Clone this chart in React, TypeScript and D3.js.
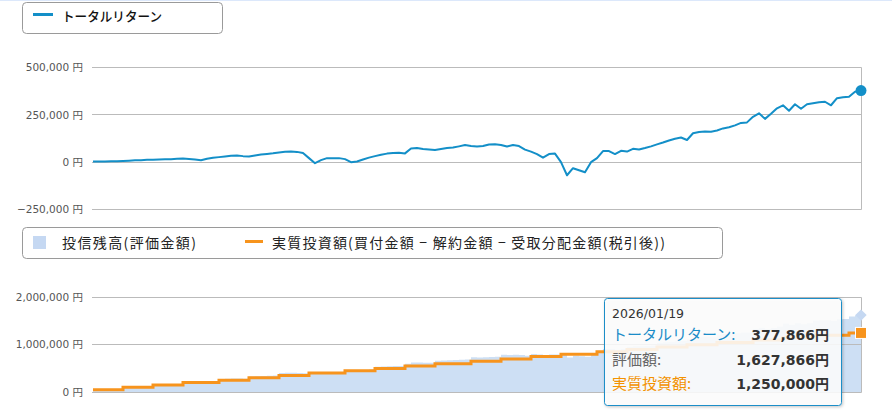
import React from "react";
import * as d3 from "d3";

const totalReturn: number[] = [
  3000, 3000, 3700, 4300, 5300, 6400, 8000, 9600, 10600, 12200,
  13300, 14400, 14900, 16000, 17600, 19100, 17000, 14400, 10600, 17600,
  22900, 26600, 30300, 33500, 34600, 31900, 30300, 35600, 39900, 43600,
  46800, 51600, 54800, 56900, 54300, 47900, 21300, -5300, 10600, 21300,
  20200, 21300, 16000, 0, 3700, 14400, 23900, 31900, 38800, 45200,
  47900, 49500, 46300, 71800, 74500, 69100, 66500, 63800, 69100, 74500,
  77100, 83500, 90400, 85100, 82400, 85100, 93100, 94100, 90400, 82400,
  90400, 85100, 66500, 55800, 42600, 23900, 42600, 45200, 0, -69100,
  -31900, -42600, -53200, 0, 21300, 58500, 58500, 42600, 60100, 55800,
  70700, 66500, 74500, 83500, 94100, 103700, 114400, 123900, 130300, 117000,
  152700, 159600, 162200, 161200, 167500, 178200, 184600, 194100, 207400, 210100,
  239400, 258000, 228700, 255300, 284600, 300500, 271300, 305800, 281900, 305800,
  311200, 316500, 319100, 300500, 337800, 343100, 345700, 372300, 377866,
];

// Net invested amount (円): sample index at which each level starts
const investStart: number[] = [
  0, 5, 10, 15, 21, 26, 31, 36, 42, 47, 52, 57, 63, 68, 73, 78, 84, 89, 94, 99,
  104, 110, 115, 120, 126,
];
const investAmount: number[] = [
  50000, 100000, 150000, 200000, 250000, 300000, 350000, 400000, 450000, 500000,
  550000, 600000, 650000, 700000, 750000, 800000, 850000, 900000, 950000, 1000000,
  1050000, 1100000, 1150000, 1200000, 1250000,
];

const topTicks: number[] = [500000, 250000, 0, -250000];
const bottomTicks: number[] = [2000000, 1000000, 0];

const tooltipDate = "2026/01/19";
const tooltipRows = [
  { label: "トータルリターン:", value: "377,866円", color: "#1a8cc8" },
  { label: "評価額:", value: "1,627,866円", color: "#666666" },
  { label: "実質投資額:", value: "1,250,000円", color: "#f39200" },
];

const BLUE = "#138fc8";
const ORANGE = "#f7941d";
const AREA = "#cddff4";
const GRID = "#bbbbbb";
const JP = "'Noto Sans CJK JP', 'Noto Sans', sans-serif";
const NUM = "'DejaVu Sans', 'Noto Sans CJK JP', sans-serif";

const fmt = d3.format(",");

export default function App() {
  const N = totalReturn.length;
  const x = d3.scaleLinear().domain([0, N - 1]).range([93, 861]);
  const yTop = d3.scaleLinear().domain([-250000, 500000]).range([209.5, 67.5]);
  const yBot = d3.scaleLinear().domain([0, 2000000]).range([392, 297.5]);

  const investAt = (i: number) => investAmount[d3.bisectRight(investStart, i) - 1];
  const idx = d3.range(N);

  const retLine = d3
    .line<number>()
    .x((i) => x(i))
    .y((i) => yTop(totalReturn[i]))(idx) as string;

  const investLine = d3
    .line<number>()
    .curve(d3.curveStepAfter)
    .x((i) => x(i))
    .y((i) => yBot(investAt(i)))(idx) as string;

  const valueArea = d3
    .area<number>()
    .curve(d3.curveStepAfter)
    .x((i) => x(i))
    .y0(yBot(0))
    .y1((i) => yBot(investAt(i) + totalReturn[i]))(idx) as string;

  const crisp = (v: number) => Math.round(v - 0.5) + 0.5;
  const xL = 92;
  const xR = 861.5;
  const last = N - 1;
  const lastX = x(last);

  return (
    <svg
      width={892}
      height={413}
      style={{ position: "absolute", left: 0, top: 0, background: "#fff" }}
    >
      <defs>
        <filter id="shadow" x="-10%" y="-10%" width="130%" height="130%">
          <feDropShadow dx="1" dy="1" stdDeviation="1.5" floodColor="#000" floodOpacity="0.25" />
        </filter>
      </defs>
      <rect x={0} y={0} width={892} height={1} fill="#dce8fb" />

      {/* Legend 1 */}
      <rect x={22.5} y={2.5} width={200} height={31} rx={4} fill="#fff" stroke="#9a9a9a" />
      <line x1={33} x2={53} y1={14.5} y2={14.5} stroke={BLUE} strokeWidth={3} />
      <text x={62} y={21} fontFamily={JP} fontSize={13} fontWeight={500} fill="#111" textLength={100} lengthAdjust="spacingAndGlyphs">
        トータルリターン
      </text>

      {/* Top chart grid */}
      {topTicks.map((t) => (
        <g key={t}>
          <line x1={xL} x2={xR} y1={crisp(yTop(t))} y2={crisp(yTop(t))} stroke={GRID} />
          <text
            x={83}
            y={yTop(t)}
            dy="0.35em"
            textAnchor="end"
            fontFamily={NUM}
            fontSize={10.5}
            fill="#555"
          >
            {(t < 0 ? "−" + fmt(-t) : fmt(t)) + " 円"}
          </text>
        </g>
      ))}
      <line x1={xR} x2={xR} y1={crisp(yTop(500000))} y2={crisp(yTop(-250000))} stroke={GRID} />
      <path d={retLine} fill="none" stroke={BLUE} strokeWidth={2} strokeLinejoin="round" />
      <circle cx={lastX} cy={yTop(totalReturn[last])} r={5.5} fill={BLUE} />

      {/* Legend 2 */}
      <rect x={22.5} y={227.5} width={700} height={31} rx={4} fill="#fff" stroke="#9a9a9a" />
      <rect x={33} y={236} width={13} height={13} fill="#c5d8f2" />
      <text x={62} y={248} fontFamily={JP} fontSize={14} fill="#222" textLength={134} lengthAdjust="spacing">
        投信残高(評価金額)
      </text>
      <line x1={245} x2={263} y1={241.5} y2={241.5} stroke={ORANGE} strokeWidth={3} />
      <text x={272} y={248} fontFamily={JP} fontSize={14} fill="#222" textLength={393} lengthAdjust="spacing">
        実質投資額(買付金額 − 解約金額 − 受取分配金額(税引後))
      </text>

      {/* Bottom chart */}
      <path d={valueArea} fill={AREA} stroke="none" />
      {bottomTicks.map((t) => (
        <g key={t}>
          <line x1={xL} x2={xR} y1={crisp(yBot(t))} y2={crisp(yBot(t))} stroke={GRID} />
          <text
            x={83}
            y={yBot(t)}
            dy="0.35em"
            textAnchor="end"
            fontFamily={NUM}
            fontSize={10.5}
            fill="#555"
          >
            {fmt(t) + " 円"}
          </text>
        </g>
      ))}
      <line x1={xR} x2={xR} y1={crisp(yBot(2000000))} y2={crisp(yBot(0))} stroke={GRID} />
      <path d={investLine} fill="none" stroke={ORANGE} strokeWidth={3} />
      <rect
        x={lastX - 4}
        y={yBot(investAt(last) + totalReturn[last]) - 4}
        width={8}
        height={8}
        fill="#c5d8f2"
        transform={`rotate(45 ${lastX} ${yBot(investAt(last) + totalReturn[last])})`}
      />
      <rect
        x={lastX - 5.5}
        y={yBot(investAt(last)) - 5.5}
        width={11}
        height={11}
        fill={ORANGE}
        stroke="#fff"
        strokeWidth={1}
      />

      {/* Tooltip */}
      <g filter="url(#shadow)">
        <rect
          x={604.5}
          y={298.5}
          width={237}
          height={107}
          rx={3}
          fill="rgba(255,255,255,0.85)"
          stroke="#1b8ec8"
        />
      </g>
      <text x={612} y={318} fontFamily={NUM} fontSize={12.5} fill="#333">
        {tooltipDate}
      </text>
      {tooltipRows.map((r, k) => (
        <g key={r.label}>
          <text x={612} y={340 + k * 24.5} fontFamily={JP} fontSize={15} fill={r.color}>
            {r.label}
          </text>
          <text
            x={829}
            y={340 + k * 24.5}
            textAnchor="end"
            fontFamily={NUM}
            fontWeight="bold"
            fontSize={14}
            fill="#333"
          >
            {r.value}
          </text>
        </g>
      ))}
    </svg>
  );
}
